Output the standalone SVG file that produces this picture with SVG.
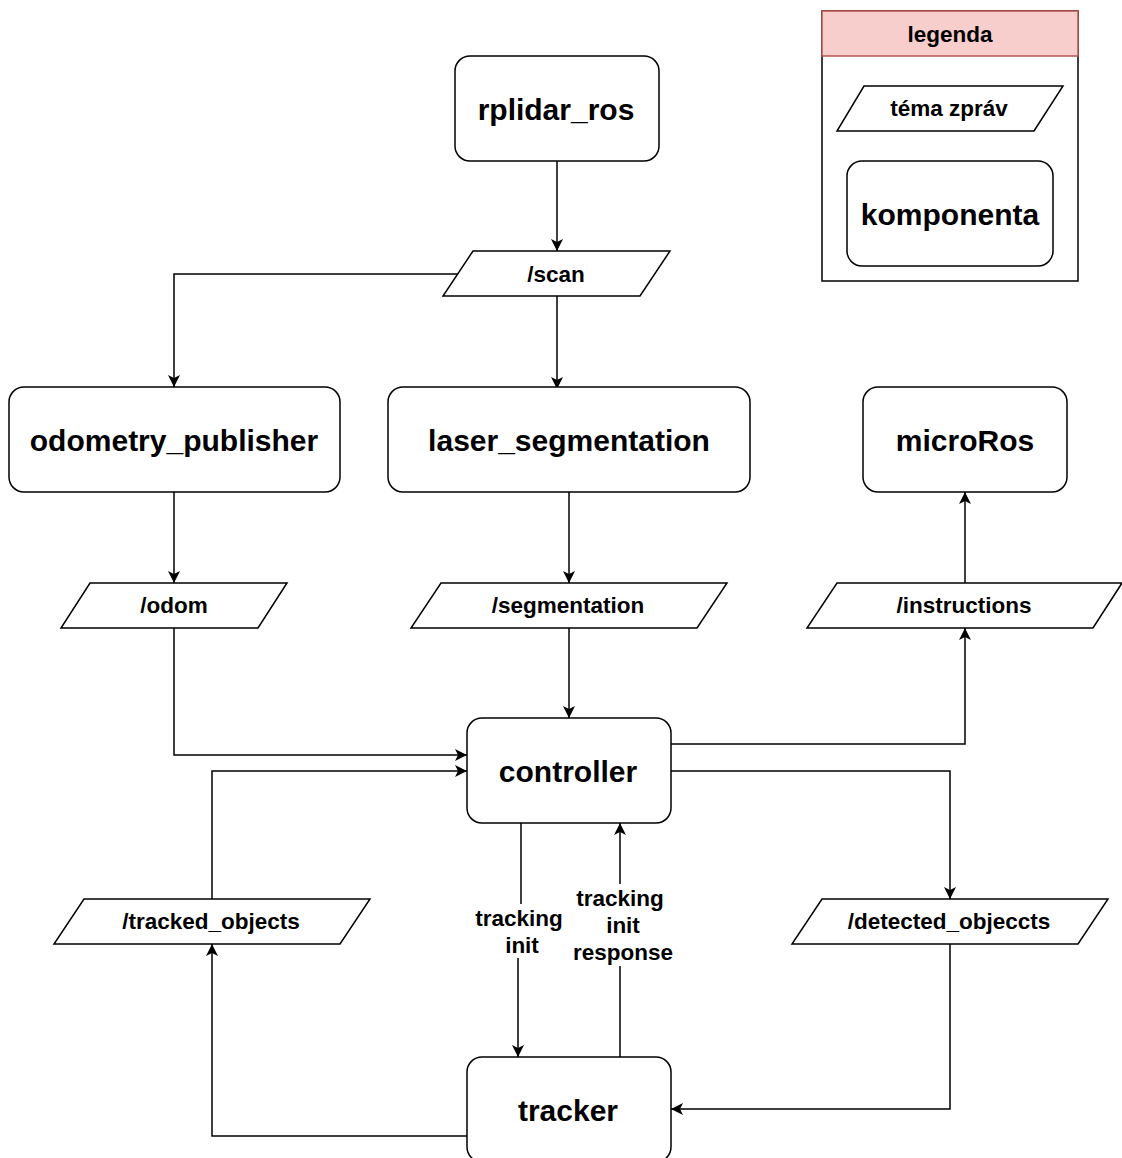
<svg xmlns="http://www.w3.org/2000/svg" width="1122" height="1158" viewBox="0 0 1122 1158">
<style>
.node{fill:#fff;stroke:#000;stroke-width:1.5}
.topic{fill:#fff;stroke:#000;stroke-width:1.5}
.big{font-family:"Liberation Sans",Arial,sans-serif;font-weight:bold;font-size:30px;text-anchor:middle;dominant-baseline:central;fill:#000}
.small{font-family:"Liberation Sans",Arial,sans-serif;font-weight:bold;font-size:22.5px;text-anchor:middle;dominant-baseline:central;fill:#000}
.edge{fill:none;stroke:#000;stroke-width:1.5}
</style>
<defs>
<marker id="arr" viewBox="0 0 10 10" refX="10" refY="5" markerWidth="12" markerHeight="12" markerUnits="userSpaceOnUse" orient="auto">
<path d="M0,0 L10,5 L0,10 L2.5,5 Z" fill="#000"/>
</marker>
</defs>
<rect width="1122" height="1158" fill="#fff"/>

<g id="connectors">
<path class="edge" d="M557,161 V251" marker-end="url(#arr)"/>
<path class="edge" d="M557,296 V389" marker-end="url(#arr)"/>
<path class="edge" d="M458,274 H174 V387" marker-end="url(#arr)"/>
<path class="edge" d="M174,492 V583" marker-end="url(#arr)"/>
<path class="edge" d="M569,492 V583" marker-end="url(#arr)"/>
<path class="edge" d="M174,628 V755 H467" marker-end="url(#arr)"/>
<path class="edge" d="M569,628 V718" marker-end="url(#arr)"/>
<path class="edge" d="M671,744 H965 V628" marker-end="url(#arr)"/>
<path class="edge" d="M965,583 V492" marker-end="url(#arr)"/>
<path class="edge" d="M671,771 H950 V899" marker-end="url(#arr)"/>
<path class="edge" d="M950,944 V1109 H671" marker-end="url(#arr)"/>
<path class="edge" d="M467,1136 H212 V944" marker-end="url(#arr)"/>
<path class="edge" d="M212,899 V771 H467" marker-end="url(#arr)"/>
<path class="edge" d="M521,823 V930 H518 V1057" marker-end="url(#arr)"/>
<path class="edge" d="M620,1057 V823" marker-end="url(#arr)"/>
<g id="label-tracking-init">
<rect x="472" y="904" width="94" height="54" fill="#fff"/>
<text class="small" x="519" y="918">tracking</text>
<text class="small" x="522" y="945">init</text>
</g>
<g id="label-tracking-init-response">
<rect x="570" y="884" width="106" height="82" fill="#fff"/>
<text class="small" x="620" y="898">tracking</text>
<text class="small" x="623" y="925">init</text>
<text class="small" x="623" y="952">response</text>
</g>
</g>

<g id="rplidar_ros">
<rect class="node" x="455" y="56" width="204" height="105" rx="15"/>
<text class="big" x="556" y="109">rplidar_ros</text>
</g>
<g id="scan">
<polygon class="topic" points="473,251 670,251 640,296 443,296"/>
<text class="small" x="556" y="274">/scan</text>
</g>
<g id="odometry_publisher">
<rect class="node" x="9" y="387" width="331" height="105" rx="15"/>
<text class="big" x="174" y="440">odometry_publisher</text>
</g>
<g id="laser_segmentation">
<rect class="node" x="388" y="387" width="362" height="105" rx="15"/>
<text class="big" x="569" y="440">laser_segmentation</text>
</g>
<g id="microRos">
<rect class="node" x="863" y="387" width="204" height="105" rx="15"/>
<text class="big" x="965" y="440">microRos</text>
</g>
<g id="odom">
<polygon class="topic" points="90,583 287,583 258,628 61,628"/>
<text class="small" x="174" y="605">/odom</text>
</g>
<g id="segmentation">
<polygon class="topic" points="441,583 727,583 697,628 411,628"/>
<text class="small" x="568" y="605">/segmentation</text>
</g>
<g id="instructions">
<polygon class="topic" points="837,583 1122,583 1093,628 807,628"/>
<text class="small" x="964" y="605">/instructions</text>
</g>
<g id="controller">
<rect class="node" x="467" y="718" width="204" height="105" rx="15"/>
<text class="big" x="568" y="771">controller</text>
</g>
<g id="tracked_objects">
<polygon class="topic" points="84,899 370,899 340,944 54,944"/>
<text class="small" x="211" y="921">/tracked_objects</text>
</g>
<g id="detected_objeccts">
<polygon class="topic" points="822,899 1108,899 1078,944 792,944"/>
<text class="small" x="949" y="921">/detected_objeccts</text>
</g>
<g id="tracker">
<rect class="node" x="467" y="1057" width="204" height="105" rx="15"/>
<text class="big" x="568" y="1110">tracker</text>
</g>

<g id="legend">
<rect x="822" y="11" width="256" height="270" fill="#fff" stroke="#000" stroke-width="1.5"/>
<rect x="822" y="11" width="256" height="45" fill="#f8cecc" stroke="#b85450" stroke-width="1.5"/>
<text class="small" x="950" y="34">legenda</text>
<polygon class="topic" points="864,86 1063,86 1034,131 837,131"/>
<text class="small" x="949" y="108">téma zpráv</text>
<rect class="node" x="847" y="161" width="206" height="105" rx="15"/>
<text class="big" x="950" y="214">komponenta</text>
</g>
</svg>
